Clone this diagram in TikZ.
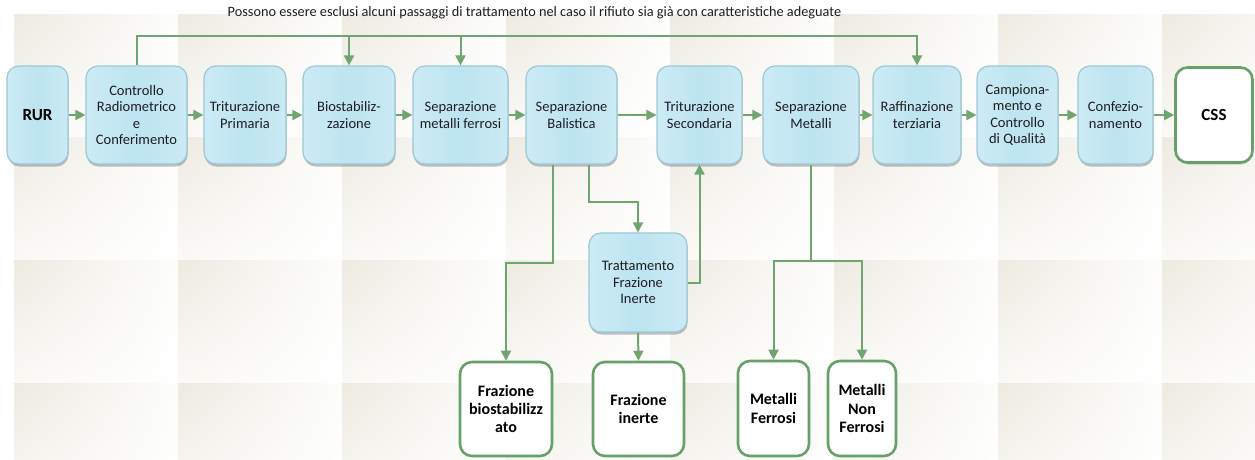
\documentclass[tikz,border=0pt]{standalone}
\usepackage{fontspec}
\setmainfont{Carlito}
\usetikzlibrary{arrows.meta,shadows,shadings,calc}
\definecolor{lnGreen}{HTML}{6FA66F}
\definecolor{bdGreen}{HTML}{68A06A}
\definecolor{bxBorder}{HTML}{9CC8D6}
\definecolor{bxL}{HTML}{CCEBF5}
\definecolor{bxM}{HTML}{BDE4F1}
\definecolor{bxR}{HTML}{CBEAF4}
\definecolor{tileA}{HTML}{EDEAE1}
\definecolor{tileB}{HTML}{FDFDFC}
\definecolor{tileC}{HTML}{FAF9F6}
\definecolor{txt}{HTML}{1E1E1E}
\begin{document}
\begin{tikzpicture}[x=1pt,y=-1pt,
 proc/.style={draw=bxBorder, line width=1.2pt, rounded corners=12pt,
   left color=bxL, right color=bxR, middle color=bxM,
   drop shadow={shadow xshift=0.6pt, shadow yshift=-2.5pt, opacity=0.35, fill=black!70},
   align=center, text=txt, font=\fontsize{14.5}{16.6}\selectfont, inner sep=2pt, minimum height=98pt},
 outbox/.style={draw=bdGreen, line width=2.6pt, rounded corners=12pt, fill=white,
   align=center, text=black, font=\fontsize{16}{18.3}\selectfont\bfseries, inner sep=2pt},
 conn/.style={draw=lnGreen, line width=2pt, -{Triangle[length=10pt,width=10pt]}},
 bigbold/.style={font=\fontsize{17}{20}\selectfont\bfseries, text=black},
]
\useasboundingbox (0,0) rectangle (1255,459);
\fill[white] (0,0) rectangle (1255,459);
% background tiles
\begin{scope}
\clip (0,0) rectangle (1255,459);
\foreach \c in {0,...,7} {
  \foreach \r in {0,...,3} {
    \shade[upper left=tileA, upper right=tileB, lower left=tileC, lower right=white]
      ({14+164*\c},{14+123*\r}) rectangle ++(164,123);
  }
}
\end{scope}

\node[font=\fontsize{14.3}{16}\selectfont, text=txt] (note) at (534.5,13)
  {Possono essere esclusi alcuni passaggi di trattamento nel caso il rifiuto sia già con caratteristiche adeguate};

% main row
\node[proc, minimum width=61pt, bigbold] (rur) at (37.5,115) {RUR};
\node[proc, minimum width=101pt] (ctrl) at (136.5,115) {Controllo\\Radiometrico\\e\\Conferimento};
\node[proc, minimum width=82pt] (trit1) at (245,115) {Triturazione\\Primaria};
\node[proc, minimum width=92pt] (bio) at (349,115) {Biostabiliz-\\zazione};
\node[proc, minimum width=95pt] (sepfe) at (460.5,115) {Separazione\\metalli ferrosi};
\node[proc, minimum width=91pt] (bal) at (571.5,115) {Separazione\\Balistica};
\node[proc, minimum width=85pt] (trit2) at (699.5,115) {Triturazione\\Secondaria};
\node[proc, minimum width=96pt] (sepmet) at (811,115) {Separazione\\Metalli};
\node[proc, minimum width=88pt] (raff) at (917,115) {Raffinazione\\terziaria};
\node[proc, minimum width=81pt] (camp) at (1017.5,115) {Campiona-\\mento e\\Controllo\\di Qualità};
\node[proc, minimum width=75pt] (conf) at (1115.5,115) {Confezio-\\namento};
\node[outbox, minimum width=77pt, minimum height=95pt, bigbold,
  drop shadow={shadow xshift=0.6pt, shadow yshift=-2pt, opacity=0.25, fill=black!60}] (css) at (1214,115) {CSS};

% lower nodes
\node[proc, minimum width=98pt, minimum height=99pt] (trat) at (638,282.5) {Trattamento\\Frazione\\Inerte};
\node[outbox, minimum width=92pt, minimum height=94pt] (fb) at (506,409) {Frazione\\biostabilizz\\ato};
\node[outbox, minimum width=91pt, minimum height=94pt] (fi) at (638.5,409) {Frazione\\inerte};
\node[outbox, minimum width=71pt, minimum height=95pt] (mf) at (773.5,408.5) {Metalli\\Ferrosi};
\node[outbox, minimum width=68pt, minimum height=95pt] (mnf) at (862,408.5) {Metalli\\Non\\Ferrosi};

% main row arrows
\draw[conn] (rur.east) -- (ctrl.west);
\draw[conn] (ctrl.east) -- (trit1.west);
\draw[conn] (trit1.east) -- (bio.west);
\draw[conn] (bio.east) -- (sepfe.west);
\draw[conn] (sepfe.east) -- (bal.west);
\draw[conn] (bal.east) -- (trit2.west);
\draw[conn] (trit2.east) -- (sepmet.west);
\draw[conn] (sepmet.east) -- (raff.west);
\draw[conn] (raff.east) -- (camp.west);
\draw[conn] (camp.east) -- (conf.west);
\draw[conn] (conf.east) -- (css.west);

% top bypass line
\coordinate (ty) at (0,36);
\draw[conn] (ctrl.north) |- (ty -| raff.north) -- (raff.north);
\draw[conn] (ty -| bio.north) -- (bio.north);
\draw[conn] (ty -| sepfe.north) -- (sepfe.north);

% lower connectors
\coordinate (j1) at (553,263);
\draw[conn] (bal.south -| j1) -- (j1) -| (fb.north);
\coordinate (j2) at (589,202);
\draw[conn] (bal.south -| j2) -- (j2) -| (trat.north);
\draw[conn] (trat.east) -| (trit2.south);
\draw[conn] (trat.south) -- (fi.north);
\coordinate (j3) at (811,261);
\draw[conn] (sepmet.south) -- (j3) -| (mf.north);
\draw[conn] (j3) -| (mnf.north);
\end{tikzpicture}
\end{document}
